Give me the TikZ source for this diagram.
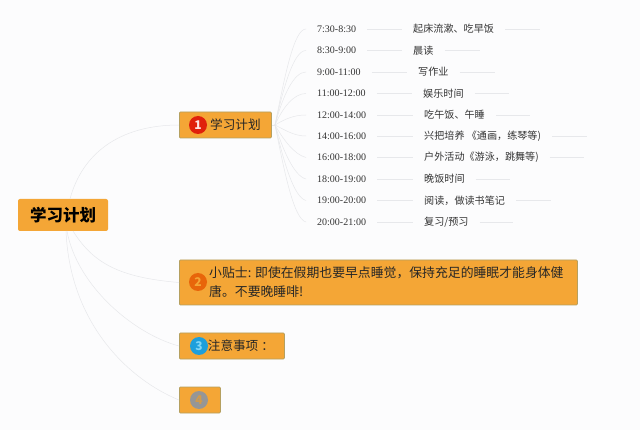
\documentclass[tikz,border=0pt]{standalone}
\usepackage{fontspec}
\setmainfont{Liberation Serif}
\newfontfamily\cjk{Noto Sans CJK SC}
\definecolor{paper}{HTML}{FCFCFD}
\definecolor{boxfill}{HTML}{F4A636}
\definecolor{boxline}{HTML}{B5A060}
\definecolor{wire}{HTML}{E7E8EB}
\tikzset{
	root/.style={fill=boxfill, rounded corners=2pt, font=\cjk\bfseries\fontsize{16.5}{20}\selectfont, text=black, minimum width=90pt, minimum height=32pt, inner sep=0pt},
	topic/.style={draw=boxline, fill=boxfill, rounded corners=1pt, line width=0.8pt, font=\cjk\fontsize{12.6}{19}\selectfont, text=black!85, minimum height=26pt, inner sep=0pt, anchor=west, align=left},
	badge/.style={circle, minimum size=18pt, inner sep=0pt, font=\cjk\bfseries\fontsize{12}{12}\selectfont},
	clock/.style={anchor=west, inner xsep=11pt, inner ysep=0pt, text=black!80, font=\fontsize{10}{12}\selectfont},
	task/.style={anchor=west, inner xsep=11pt, inner ysep=0pt, text=black!80, font=\cjk\fontsize{10.1}{12}\selectfont},
	wire/.style={draw=wire, line width=0.5pt}
}
\begin{document}
\begin{tikzpicture}[x=1pt, y=-1pt]
			\fill[paper] (0,0) rectangle (640,430);
			\useasboundingbox (0,0) rectangle (640,430);
			\node[root] (main) at (63,215) {学习计划};
			\node[topic, minimum width=92pt] (plan) at (179,125) {\hspace*{20pt}学习计划};
			\node[topic, minimum width=398pt, minimum height=45pt, font=\cjk\fontsize{12.85}{19}\selectfont] (tip) at (179,282.5) {\hspace*{16pt}小贴士: 即使在假期也要早点睡觉，保持充足的睡眠才能身体健\\\hspace*{16pt}唐。不要晚睡啡!};
			\node[topic, minimum width=105pt] (note) at (179,346) {\hspace*{18pt}注意事项\hspace{3pt}：};
			\node[topic, minimum width=41pt] (blank) at (179,400) {};
			\node[badge, fill={rgb,255:red,224;green,32;blue,12}, text=white!90!red] (one) at (198,125) {1};
			\node[badge, fill={rgb,255:red,232;green,101;blue,10}, text=boxfill] (two) at (198,282) {2};
			\node[badge, fill={rgb,255:red,30;green,159;blue,220}, text=cyan!50!white] (three) at (199,346) {3};
			\node[badge, fill={rgb,255:red,150;green,150;blue,150}, text=boxfill!70!gray] (four) at (199,400) {4};
			\coordinate (up) at (70,199);
			\coordinate (down1) at (73,231);
			\coordinate (down2) at (67,231);
			\coordinate (down3) at (66,231);
			\coordinate (hub) at (275,125);
			\draw[wire] (up) .. controls +(12,-45) and +(-60,0) .. (plan.west);
			\draw[wire] (down1) .. controls +(20,32) and +(-60,-5) .. (tip.west);
			\draw[wire] (down2) .. controls +(10,55) and +(-45,-12) .. (note.west);
			\draw[wire] (down3) .. controls +(4,94) and +(-49,-20) .. (blank.west);
			\draw[wire] (plan.east) -- (hub);
			\node[clock] (t1) at (306,29) {7:30-8:30};
			\node[clock] (t2) at (306,50.5) {8:30-9:00};
			\node[clock] (t3) at (306,72) {9:00-11:00};
			\node[clock] (t4) at (306,93.5) {11:00-12:00};
			\node[clock] (t5) at (306,115) {12:00-14:00};
			\node[clock] (t6) at (306,136) {14:00-16:00};
			\node[clock] (t7) at (306,157.5) {16:00-18:00};
			\node[clock] (t8) at (306,179) {18:00-19:00};
			\node[clock] (t9) at (306,200.5) {19:00-20:00};
			\node[clock] (t10) at (306,222) {20:00-21:00};
			\node[task] (a1) at (402,29) {起床流漱、吃早饭};
			\node[task] (a2) at (402,50.5) {晨读};
			\node[task] (a3) at (407,72) {写作业};
			\node[task] (a4) at (412,93.5) {娱乐时间};
			\node[task] (a5) at (413,115) {吃午饭、午睡};
			\node[task] (a6) at (413,136) {兴把培养 《通画，练琴等)};
			\node[task] (a7) at (413,157.5) {户外活动《游泳，跳舞等)};
			\node[task] (a8) at (413,179) {晚饭时间};
			\node[task] (a9) at (413,200.5) {阅读，做读书笔记};
			\node[task] (a10) at (413,222) {复习/预习};
			\coordinate (e1) at (540,29);
			\coordinate (e2) at (480,50.5);
			\coordinate (e3) at (495,72);
			\coordinate (e4) at (509,93.5);
			\coordinate (e5) at (530,115);
			\coordinate (e6) at (587,136);
			\coordinate (e7) at (584,157.5);
			\coordinate (e8) at (510,179);
			\coordinate (e9) at (551,200.5);
			\coordinate (e10) at (513,222);
			\draw[wire] (hub) .. controls +(10,-50) and +(-12,0) .. (t1.west);
			\draw[wire] (hub) .. controls +(9,-40) and +(-12,0) .. (t2.west);
			\draw[wire] (hub) .. controls +(8,-30) and +(-12,0) .. (t3.west);
			\draw[wire] (hub) .. controls +(8,-18) and +(-12,0) .. (t4.west);
			\draw[wire] (hub) .. controls +(10,-6) and +(-12,0) .. (t5.west);
			\draw[wire] (hub) .. controls +(10,5) and +(-12,0) .. (t6.west);
			\draw[wire] (hub) .. controls +(8,14) and +(-12,-3) .. (t7.west);
			\draw[wire] (hub) .. controls +(8,25) and +(-12,-3) .. (t8.west);
			\draw[wire] (hub) .. controls +(9,38) and +(-12,-3) .. (t9.west);
			\draw[wire] (hub) .. controls +(10,50) and +(-12,-3) .. (t10.west);
			\draw[wire] (t1) -- (a1) -- (e1);
			\draw[wire] (t2) -- (a2) -- (e2);
			\draw[wire] (t3) -- (a3) -- (e3);
			\draw[wire] (t4) -- (a4) -- (e4);
			\draw[wire] (t5) -- (a5) -- (e5);
			\draw[wire] (t6) -- (a6) -- (e6);
			\draw[wire] (t7) -- (a7) -- (e7);
			\draw[wire] (t8) -- (a8) -- (e8);
			\draw[wire] (t9) -- (a9) -- (e9);
			\draw[wire] (t10) -- (a10) -- (e10);
		\end{tikzpicture}
\end{document}
